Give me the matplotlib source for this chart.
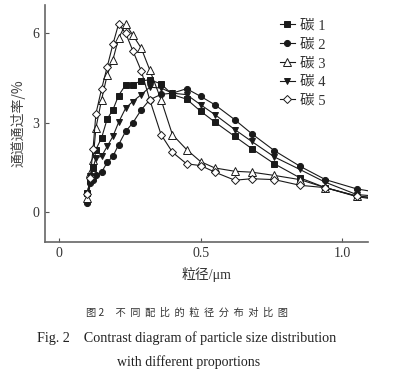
import matplotlib
matplotlib.use("Agg")
import matplotlib.pyplot as plt

# particle size grid (µm); last point lies beyond the axis edge
size_um = [0.10, 0.11, 0.12, 0.13, 0.15, 0.17, 0.19, 0.21, 0.235, 0.26, 0.29, 0.32,
           0.36, 0.40, 0.45, 0.50, 0.55, 0.62, 0.68, 0.76, 0.85, 0.94, 1.05, 1.10]

c1 = [0.65, 1.09, 1.48, 2.10, 2.49, 3.13, 3.43, 3.91, 4.27, 4.28, 4.40, 4.44,
      4.30, 3.94, 3.79, 3.38, 3.02, 2.54, 2.13, 1.62, 1.15, 0.82, 0.52, 0.45]
c2 = [0.29, 0.98, 1.09, 1.23, 1.34, 1.67, 1.87, 2.26, 2.71, 2.99, 3.43, 3.77,
      3.95, 3.99, 4.14, 3.88, 3.60, 3.10, 2.63, 2.06, 1.54, 1.09, 0.78, 0.70]
c3 = [0.48, 1.32, 1.76, 2.82, 3.77, 4.61, 5.11, 5.83, 6.31, 5.94, 5.50, 4.77,
      3.77, 2.60, 2.10, 1.69, 1.48, 1.37, 1.34, 1.23, 1.09, 0.82, 0.54, 0.48]
c4 = [0.60, 1.20, 1.48, 1.82, 1.87, 2.21, 2.54, 3.01, 3.49, 3.71, 3.94, 4.19,
      4.16, 3.99, 3.94, 3.60, 3.27, 2.77, 2.37, 1.85, 1.43, 1.00, 0.59, 0.55]
c5 = [0.60, 1.15, 2.13, 3.30, 4.13, 4.88, 5.63, 6.31, 6.00, 5.42, 4.74, 3.77,
      2.60, 2.01, 1.62, 1.56, 1.34, 1.07, 1.12, 1.09, 0.90, 0.82, 0.54, 0.50]

labels = ["碳 1", "碳 2", "碳 3", "碳 4", "碳 5"]
xticks = [0, 0.5, 1.0]
xticklabels = ["0", "0.5", "1.0"]
yticks = [0, 3, 6]
yticklabels = ["0", "3", "6"]

CJK = ["Noto Sans CJK SC", "DejaVu Sans"]
SERIF = ["Liberation Serif", "Noto Sans CJK SC"]

fig = plt.figure(figsize=(4.12, 3.78), dpi=100)
ax = fig.add_axes([0.109, 0.360, 0.784, 0.627])

styles = [
    dict(marker="s", mfc="#1a1a1a", mec="#1a1a1a", ms=4.4),
    dict(marker="o", mfc="#1a1a1a", mec="#1a1a1a", ms=4.4),
    dict(marker="^", mfc="white", mec="#1a1a1a", ms=5.2),
    dict(marker="v", mfc="#1a1a1a", mec="#1a1a1a", ms=4.4),
    dict(marker="D", mfc="white", mec="#1a1a1a", ms=4.0),
]
npts = len(size_um)
for ys, lab, st in zip([c1, c2, c3, c4, c5], labels, styles):
    ax.plot(size_um, ys, color="#1a1a1a", lw=0.8, label=lab,
            markevery=list(range(npts - 1)), mew=0.7, **st)

ax.set_xlim(-0.05, 1.09)
ax.set_ylim(-1.0, 6.95)
ax.set_xticks(xticks)
ax.set_xticklabels(xticklabels, family=SERIF, fontsize=10, color="#333333")
ax.set_yticks(yticks)
ax.set_yticklabels(yticklabels, family=SERIF, fontsize=10, color="#333333")
ax.tick_params(direction="in", length=3, width=0.8, color="#555555", pad=4)

for s in ["top", "right"]:
    ax.spines[s].set_visible(False)
for s in ["left", "bottom"]:
    ax.spines[s].set_color("#666666")
    ax.spines[s].set_linewidth(1.2)

ax.set_ylabel("通道通过率/%", family=CJK, fontsize=10, color="#444444", labelpad=5)
ax.set_xlabel("粒径/μm", family=SERIF, fontsize=10, color="#333333", labelpad=5)

leg = ax.legend(loc="upper left", bbox_to_anchor=(0.705, 0.97), frameon=False,
                handlelength=1.0, handletextpad=0.4, labelspacing=0.38,
                borderpad=0, prop={"family": SERIF, "size": 10.5})
for t in leg.get_texts():
    t.set_color("#333333")

fig.text(0.455, 0.172, "图 2     不  同  配  比  的  粒  径  分  布  对  比  图", family=CJK,
         fontsize=7.4, ha="center", va="center", color="#333333")
fig.text(0.09, 0.105, "Fig. 2    Contrast diagram of particle size distribution",
         family=SERIF, fontsize=10.2, ha="left", va="center", color="#222222")
fig.text(0.457, 0.042, "with different proportions",
         family=SERIF, fontsize=10, ha="center", va="center", color="#222222")

fig.savefig("out.png", dpi=100)
